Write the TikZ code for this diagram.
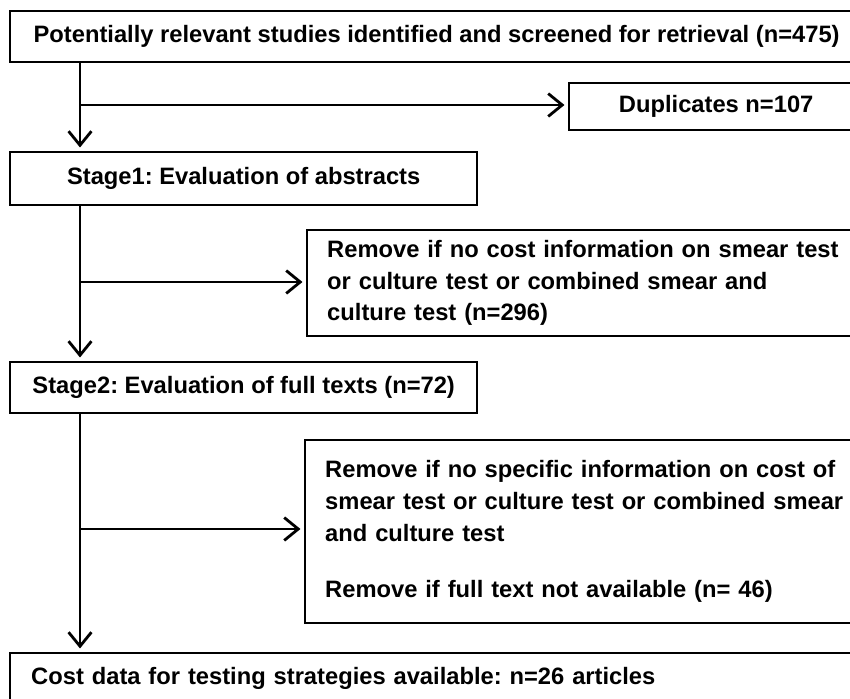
\documentclass[tikz,border=0pt]{standalone}
\usepackage{fontspec}
\setmainfont{Liberation Sans}
\usepackage{tikz}
\usetikzlibrary{arrows.meta}
\frenchspacing

\tikzset{
  box/.style={draw, line width=1.4pt, inner sep=0pt, anchor=north west,
    font=\bfseries\fontsize{13.5}{18}\selectfont},
  flow/.style={line width=1.6pt, -{Straight Barb[length=8pt,width=13pt]}, shorten >=2pt},
}

\begin{document}
\begin{tikzpicture}[x=0.02cm, y=-0.02cm]
 \useasboundingbox (0,0) rectangle (850,699);
 \clip (0,0) rectangle (850,699);

 %main column
 \node[box, minimum width=17.06cm, minimum height=1.02cm] (screened) at (9,10)
   {Potentially relevant studies identified and screened for retrieval (n=475)};
 \node[box, minimum width=9.34cm, minimum height=1.06cm] (stage1) at (9,151)
   {Stage1: Evaluation of abstracts};
 \node[box, minimum width=9.34cm, minimum height=1.02cm] (stage2) at (9,361)
   {Stage2: Evaluation of full texts (n=72)};
 \node[box, text width=16.64cm, inner xsep=0.42cm, minimum height=1.0cm, align=left] (final) at (9,652)
   {Cost data for testing strategies available: n=26 articles};

 %excluded (boxes run past the right edge)
 \node[box, minimum width=5.88cm, minimum height=0.94cm] (dup) at (568,82) {Duplicates n=107};
 \node[box, text width=11cm, inner xsep=0.4cm, minimum height=2.12cm, align=left] (rem1) at (306,229)
   {Remove if no cost information on smear test\\ or culture test or combined smear and\\ culture test (n=296)};
 \node[box, text width=11cm, inner xsep=0.4cm, minimum height=3.66cm, align=left] (rem2) at (304,439)
   {Remove if no specific information on cost of\\ smear test or culture test or combined smear\\ and culture test\\[0.5cm] Remove if full text not available (n= 46)};

 %arrows
 \coordinate (trunk) at (80,0);
 \foreach \from/\to in {screened/stage1, stage1/stage2, stage2/final}
   \draw[flow] (\from.south -| trunk) -- (\to.north -| trunk);

 \foreach \y/\target in {105/dup, 282/rem1, 529/rem2} {
   \coordinate (split-\target) at (80,\y);
   \draw[flow] (split-\target) -- (\target.west |- split-\target);
 }
\end{tikzpicture}
\end{document}
